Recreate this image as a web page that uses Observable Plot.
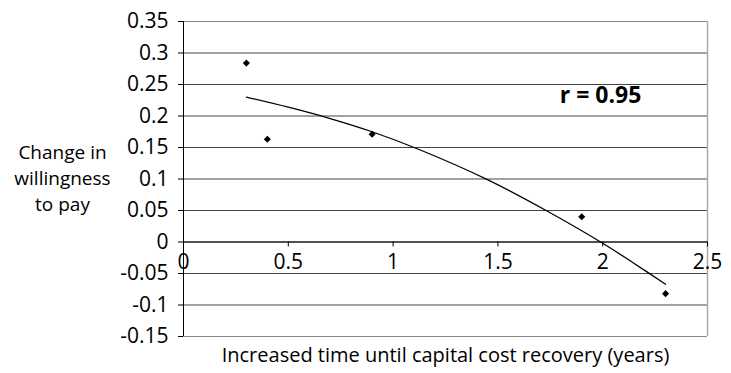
<!DOCTYPE html>
<html>
<head>
<meta charset="utf-8">
<script src="https://cdn.jsdelivr.net/npm/d3@7"></script>
<script src="https://cdn.jsdelivr.net/npm/@observablehq/plot@0.6"></script>
<style>
  html, body { margin: 0; padding: 0; background: #fff; }
  #chart svg { display: block; }
</style>
</head>
<body>
<div id="chart"></div>
<script>
// Observed data points
const xValues = [0.3, 0.4, 0.9, 1.9, 2.3];
const yValues = [0.284, 0.163, 0.171, 0.040, -0.082];

// Trendline points
const trendX = [0.3, 0.5, 0.7, 0.9, 1.13, 1.45, 1.73, 2.0, 2.15, 2.3];
const trendY = [0.230, 0.214, 0.196, 0.175, 0.146, 0.099, 0.050, -0.002, -0.034, -0.067];

// Tick labels
const xTicks = [0, 0.5, 1, 1.5, 2, 2.5];
const yTicks = [0.35, 0.3, 0.25, 0.2, 0.15, 0.1, 0.05, 0, -0.05, -0.1, -0.15];

const xLabel = "Increased time until capital cost recovery (years)";
const yLabel = "Change in\nwillingness\nto pay";
const annotation = "r = 0.95";

const points = xValues.map((x, i) => ({x, y: yValues[i]}));
const trend = trendX.map((x, i) => ({x, y: trendY[i]}));

const font = "'Open Sans', sans-serif";
const tickFs = 21;
const labelFs = 20;

const chart = Plot.plot({
  width: 731,
  height: 373,
  marginLeft: 183,
  marginRight: 24,
  marginTop: 21,
  marginBottom: 37,
  style: {fontFamily: font, fontSize: labelFs + "px", color: "#000", background: "#fff"},
  x: {domain: [0, 2.5], axis: null},
  y: {domain: [-0.15, 0.35], axis: null},
  marks: [
    // horizontal gridlines
    Plot.ruleY(yTicks.filter(d => d !== 0.35 && d !== -0.15), {stroke: "#444", strokeWidth: 1}),
    Plot.ruleY([0.35, -0.15], {stroke: "#888", strokeWidth: 1.2}),
    // right border
    Plot.ruleX([2.5], {stroke: "#aaa", strokeWidth: 1.5}),
    // left axis line
    Plot.ruleX([0], {stroke: "#000", strokeWidth: 1}),
    // y axis ticks and labels
    Plot.axisY({
      ticks: yTicks,
      tickSize: 5,
      tickPadding: 10,
      tickFormat: d => String(d),
      fontSize: tickFs,
      label: null,
      stroke: "#000"
    }),
    // x axis at y = 0
    Plot.ruleY([0], {stroke: "#000", strokeWidth: 1}),
    Plot.ruleX(xTicks.slice(1), {x: d => d, y1: 0, y2: 0, insetBottom: -5, stroke: "#000"}),
    Plot.text(xTicks, {x: d => d, y: 0, text: d => String(d), dy: 12, lineAnchor: "top", fontSize: tickFs, fill: "#000"}),
    // trendline
    Plot.line(trend, {x: "x", y: "y", curve: "catmull-rom", stroke: "#000", strokeWidth: 1.3}),
    // data points
    Plot.dot(points, {x: "x", y: "y", symbol: "diamond2", r: 3.2, fill: "#000", stroke: null}),
    // annotation
    Plot.text([annotation], {x: 1.99, y: 0.233, text: d => d, fontWeight: "bold", fontSize: 23, fill: "#000", textAnchor: "middle"}),
    // y label
    Plot.text([yLabel], {frameAnchor: "left", y: 0.104, dx: -121, text: d => d, textAnchor: "middle", lineHeight: 1.37, fontSize: 19, fill: "#000"}),
    // x label
    Plot.text([xLabel], {frameAnchor: "bottom", dy: 25, text: d => d, textAnchor: "middle", fontSize: labelFs, fill: "#000"})
  ]
});

document.getElementById("chart").appendChild(chart);
</script>
</body>
</html>
